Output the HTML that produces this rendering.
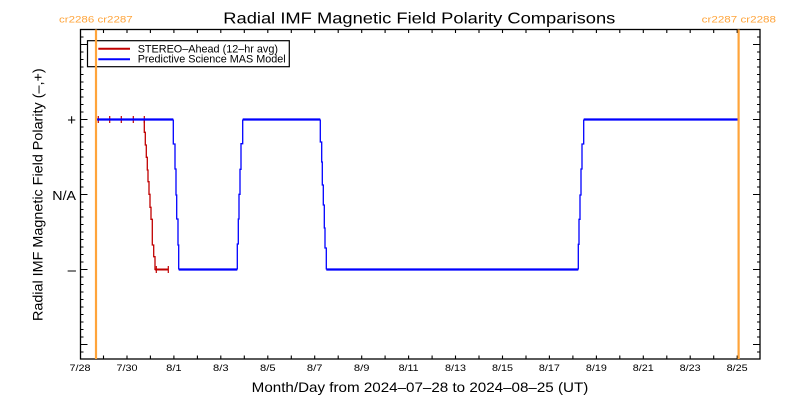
<!DOCTYPE html>
<html><head><meta charset="utf-8"><style>
html,body{margin:0;padding:0;background:#fff;}
svg{display:block;}
text{font-family:"Liberation Sans",sans-serif;fill:#000;}
</style></head><body>
<svg width="800" height="400" viewBox="0 0 800 400" xmlns="http://www.w3.org/2000/svg">
<rect width="800" height="400" fill="#fff"/>
<!-- title -->
<text x="223.3" y="23.3" font-size="16" textLength="392" lengthAdjust="spacingAndGlyphs">Radial IMF Magnetic Field Polarity Comparisons</text>
<text x="59" y="22.7" font-size="9" style="fill:#FFA43A" textLength="73.7" lengthAdjust="spacingAndGlyphs">cr2286 cr2287</text>
<text x="701.7" y="22.7" font-size="9" style="fill:#FFA43A" textLength="74.3" lengthAdjust="spacingAndGlyphs">cr2287 cr2288</text>

<!-- axes box -->
<rect x="80.5" y="29.5" width="679.5" height="329.5" fill="none" stroke="#000" stroke-width="1.3"/>
<g stroke="#000" stroke-width="1.1">
<path d="M80.5 37H83.5M80.5 44.5H87.5M80.5 52H83.5M80.5 59.5H83.5M80.5 67H83.5M80.5 74.5H83.5M80.5 82H83.5M80.5 89.5H83.5M80.5 97H83.5M80.5 104.5H83.5M80.5 112H83.5M80.5 119.5H87.5M80.5 127H83.5M80.5 134.5H83.5M80.5 142H83.5M80.5 149.5H83.5M80.5 157H83.5M80.5 164.5H83.5M80.5 172H83.5M80.5 179.5H83.5M80.5 187H83.5M80.5 194.5H87.5M80.5 202H83.5M80.5 209.5H83.5M80.5 217H83.5M80.5 224.5H83.5M80.5 232H83.5M80.5 239.5H83.5M80.5 247H83.5M80.5 254.5H83.5M80.5 262H83.5M80.5 269.5H87.5M80.5 277H83.5M80.5 284.5H83.5M80.5 292H83.5M80.5 299.5H83.5M80.5 307H83.5M80.5 314.5H83.5M80.5 322H83.5M80.5 329.5H83.5M80.5 337H83.5M80.5 344.5H87.5M80.5 352H83.5"/>
<path d="M760 37H757M760 44.5H753M760 52H757M760 59.5H757M760 67H757M760 74.5H757M760 82H757M760 89.5H757M760 97H757M760 104.5H757M760 112H757M760 119.5H753M760 127H757M760 134.5H757M760 142H757M760 149.5H757M760 157H757M760 164.5H757M760 172H757M760 179.5H757M760 187H757M760 194.5H753M760 202H757M760 209.5H757M760 217H757M760 224.5H757M760 232H757M760 239.5H757M760 247H757M760 254.5H757M760 262H757M760 269.5H753M760 277H757M760 284.5H757M760 292H757M760 299.5H757M760 307H757M760 314.5H757M760 322H757M760 329.5H757M760 337H757M760 344.5H753M760 352H757"/>
<path d="M103.5 359V355.5M127 359V355.5M150.4 359V355.5M173.9 359V355.5M197.4 359V355.5M220.8 359V355.5M244.3 359V355.5M267.8 359V355.5M291.3 359V355.5M314.7 359V355.5M338.2 359V355.5M361.7 359V355.5M385.1 359V355.5M408.6 359V355.5M432.1 359V355.5M455.5 359V355.5M479 359V355.5M502.5 359V355.5M526 359V355.5M549.4 359V355.5M572.9 359V355.5M596.4 359V355.5M619.8 359V355.5M643.3 359V355.5M666.8 359V355.5M690.2 359V355.5M713.7 359V355.5M737.2 359V355.5"/>
<path d="M103.5 29.5V33M127 29.5V33M150.4 29.5V33M173.9 29.5V33M197.4 29.5V33M220.8 29.5V33M244.3 29.5V33M267.8 29.5V33M291.3 29.5V33M314.7 29.5V33M338.2 29.5V33M361.7 29.5V33M385.1 29.5V33M408.6 29.5V33M432.1 29.5V33M455.5 29.5V33M479 29.5V33M502.5 29.5V33M526 29.5V33M549.4 29.5V33M572.9 29.5V33M596.4 29.5V33M619.8 29.5V33M643.3 29.5V33M666.8 29.5V33M690.2 29.5V33M713.7 29.5V33M737.2 29.5V33"/>
</g>

<!-- x labels -->
<g font-size="9" text-anchor="middle">
<text x="80" y="371" textLength="21" lengthAdjust="spacingAndGlyphs">7/28</text>
<text x="127" y="371" textLength="21" lengthAdjust="spacingAndGlyphs">7/30</text>
<text x="173.9" y="371" textLength="15.5" lengthAdjust="spacingAndGlyphs">8/1</text>
<text x="220.8" y="371" textLength="15.5" lengthAdjust="spacingAndGlyphs">8/3</text>
<text x="267.8" y="371" textLength="15.5" lengthAdjust="spacingAndGlyphs">8/5</text>
<text x="314.7" y="371" textLength="15.5" lengthAdjust="spacingAndGlyphs">8/7</text>
<text x="361.7" y="371" textLength="15.5" lengthAdjust="spacingAndGlyphs">8/9</text>
<text x="408.6" y="371" textLength="20" lengthAdjust="spacingAndGlyphs">8/11</text>
<text x="455.5" y="371" textLength="21" lengthAdjust="spacingAndGlyphs">8/13</text>
<text x="502.5" y="371" textLength="21" lengthAdjust="spacingAndGlyphs">8/15</text>
<text x="549.4" y="371" textLength="21" lengthAdjust="spacingAndGlyphs">8/17</text>
<text x="596.4" y="371" textLength="21" lengthAdjust="spacingAndGlyphs">8/19</text>
<text x="643.3" y="371" textLength="21" lengthAdjust="spacingAndGlyphs">8/21</text>
<text x="690.2" y="371" textLength="21" lengthAdjust="spacingAndGlyphs">8/23</text>
<text x="737.2" y="371" textLength="21" lengthAdjust="spacingAndGlyphs">8/25</text>
</g>
<text x="251.7" y="392" font-size="14" textLength="336.6" lengthAdjust="spacingAndGlyphs">Month/Day from 2024–07–28 to 2024–08–25 (UT)</text>

<!-- y labels -->
<text x="76" y="124.8" font-size="15" text-anchor="end">+</text>
<text x="76" y="200" font-size="13" text-anchor="end" textLength="23.7" lengthAdjust="spacingAndGlyphs">N/A</text>
<text x="76" y="274.8" font-size="15" text-anchor="end">–</text>
<text transform="translate(42.3,194.7) rotate(-90)" text-anchor="middle" font-size="14" textLength="252.7" lengthAdjust="spacingAndGlyphs">Radial IMF Magnetic Field Polarity (–,+)</text>

<!-- legend -->
<rect x="87.5" y="40.7" width="201.8" height="26" fill="none" stroke="#000" stroke-width="1.2"/>
<line x1="98.3" y1="48.7" x2="130" y2="48.7" stroke="#C00000" stroke-width="2"/>
<line x1="98.3" y1="59.3" x2="130" y2="59.3" stroke="#0000FF" stroke-width="2"/>
<text x="137.7" y="52.3" font-size="11" textLength="140.3" lengthAdjust="spacingAndGlyphs">STEREO–Ahead (12–hr avg)</text>
<text x="137.7" y="62.7" font-size="11" textLength="148" lengthAdjust="spacingAndGlyphs">Predictive Science MAS Model</text>

<!-- red series -->
<g stroke="#C00000" fill="none">
<path stroke-width="1.3" d="M96 119.5H144.3V132.3H145.3V145H146.3V157.3H147.3V170H148V181.7H149V194.3H150V207.3H151V219.3H152.3V245H153.7V256.7H155V269.5H168.3"/>
<path stroke-width="2" d="M155 269.5H168.3"/>
<path stroke-width="1.2" d="M98.3 116V123M109.7 116V123M121.3 116V123M133.3 116V123M144.3 116V123M156.3 266V273M168.3 266V273"/>
</g>

<!-- blue series -->
<g stroke="#0000FF" fill="none">
<path stroke-width="1.3" d="M173.3 119.5V144H175V169H176V195H176.7V219H178V245H178.7V269.5"/>
<path stroke-width="1.3" d="M237.3 269.5V244H238.3V219H239V194.3H240V169.3H241V143.7H242.7V119.5"/>
<path stroke-width="1.3" d="M320.3 119.5V142H321.7V162H322.3V185H323.3V205H324.3V228H325V248H326.3V269.5"/>
<path stroke-width="1.3" d="M578.3 269.5V244.3H579V219.3H580V195H581V169H582V144H583.7V119.5"/>
<path stroke-width="2.3" d="M96 119.5H173.3M178.7 269.5H237.3M242.7 119.5H320.3M326.3 269.5H578.3M583.7 119.5H738.5"/>
</g>

<!-- orange CR lines -->
<line x1="96" y1="29.5" x2="96" y2="359" stroke="#FFA43A" stroke-width="2.2"/>
<line x1="738.6" y1="29.5" x2="738.6" y2="359" stroke="#FFA43A" stroke-width="2.2"/>
</svg>
</body></html>
